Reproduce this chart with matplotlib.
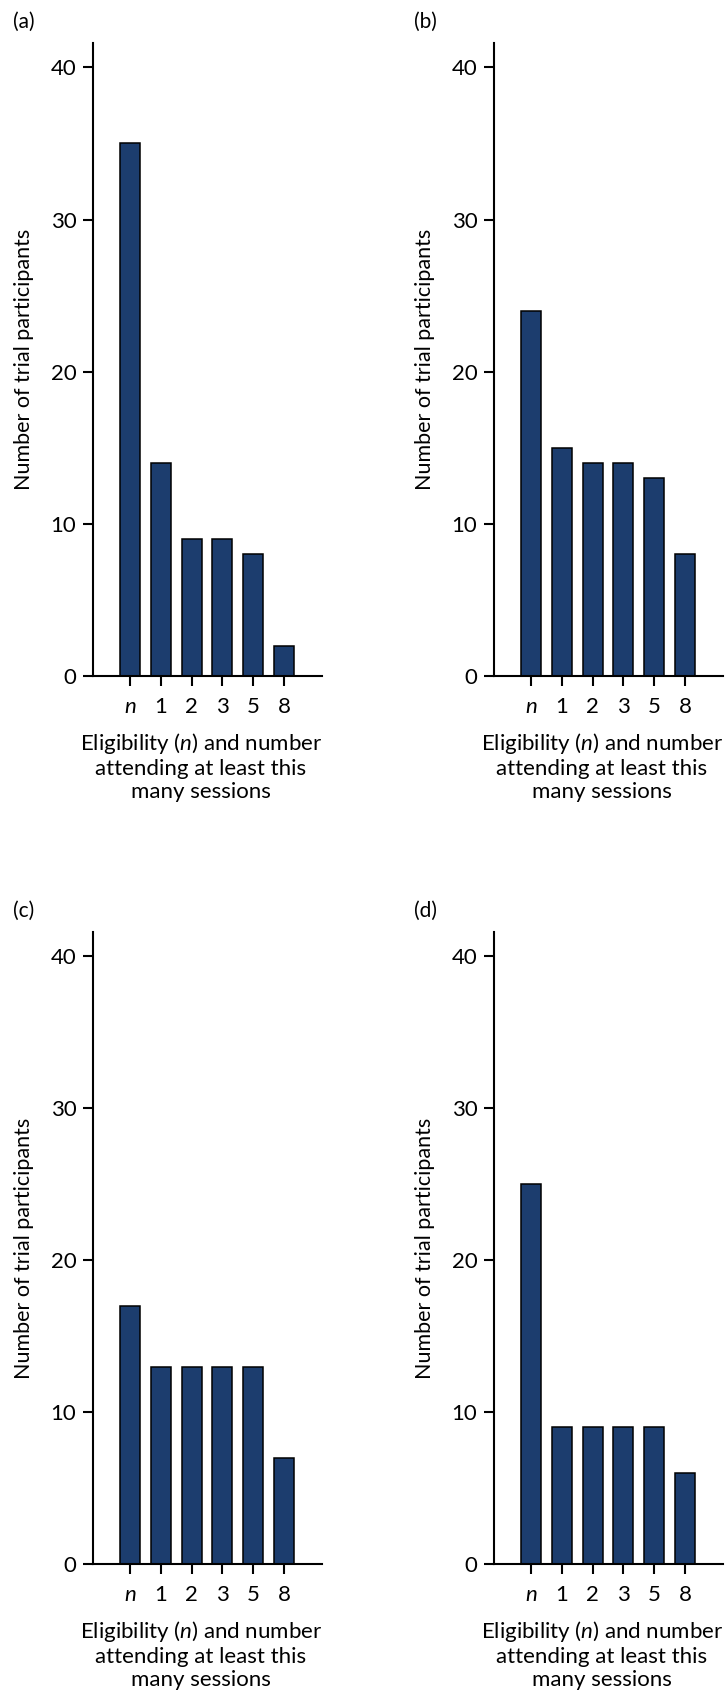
import matplotlib
matplotlib.use('Agg')
import matplotlib.pyplot as plt

plt.rcParams['font.family'] = ['Lato', 'DejaVu Sans']
plt.rcParams['mathtext.fontset'] = 'custom'
plt.rcParams['mathtext.rm'] = 'Lato'
plt.rcParams['mathtext.it'] = 'Lato:italic'

# --- data ---
categories = ['n', '1', '2', '3', '5', '8']
panel_labels = ['(a)', '(b)', '(c)', '(d)']
counts_a = [35, 14, 9, 9, 8, 2]
counts_b = [24, 15, 14, 14, 13, 8]
counts_c = [17, 13, 13, 13, 13, 7]
counts_d = [25, 9, 9, 9, 9, 6]
y_ticks = [0, 10, 20, 30, 40]

bar_color = '#1c3d6e'
W, H = 728, 1700

fig = plt.figure(figsize=(W / 100, H / 100), dpi=100)

# axes boxes in pixels: left, zero line, top
boxes = [(93, 676, 43), (494, 676, 43), (93, 1564, 932), (494, 1564, 932)]
ax_w = 229

for counts, label, (left, zero, top) in zip([counts_a, counts_b, counts_c, counts_d],
                                            panel_labels, boxes):
    ax_h = zero - top
    ax = fig.add_axes([left / W, 1 - zero / H, ax_w / W, ax_h / H])
    x = range(len(categories))
    ax.bar(x, counts, width=0.65, color=bar_color, edgecolor='black', linewidth=1.1)
    ax.set_xlim(-1.2, 6.23)
    ax.set_ylim(0, 41.6)
    ax.set_xticks(list(x))
    ax.set_xticklabels(categories)
    ax.get_xticklabels()[0].set_fontstyle('italic')
    ax.set_yticks(y_ticks)
    for s in ['top', 'right']:
        ax.spines[s].set_visible(False)
    for s in ['left', 'bottom']:
        ax.spines[s].set_linewidth(1.5)
    ax.tick_params(axis='both', direction='out', length=7, width=1.5,
                   labelsize=16, pad=5, colors='black')
    ax.tick_params(axis='x', pad=8)

    ax.set_ylabel('Number of trial participants', fontsize=15.5)
    ax.yaxis.set_label_coords(-59 / ax_w, 0.5)
    ax.text(108 / ax_w, -55 / ax_h,
            'Eligibility ($n$) and number\nattending at least this\nmany sessions',
            transform=ax.transAxes, ha='center', va='top', fontsize=16,
            linespacing=1.2)
    fig.text((left - 80) / W, 1 - (top - 21) / H, label, fontsize=15,
             ha='left', va='center')

fig.savefig('out.png', dpi=100)
